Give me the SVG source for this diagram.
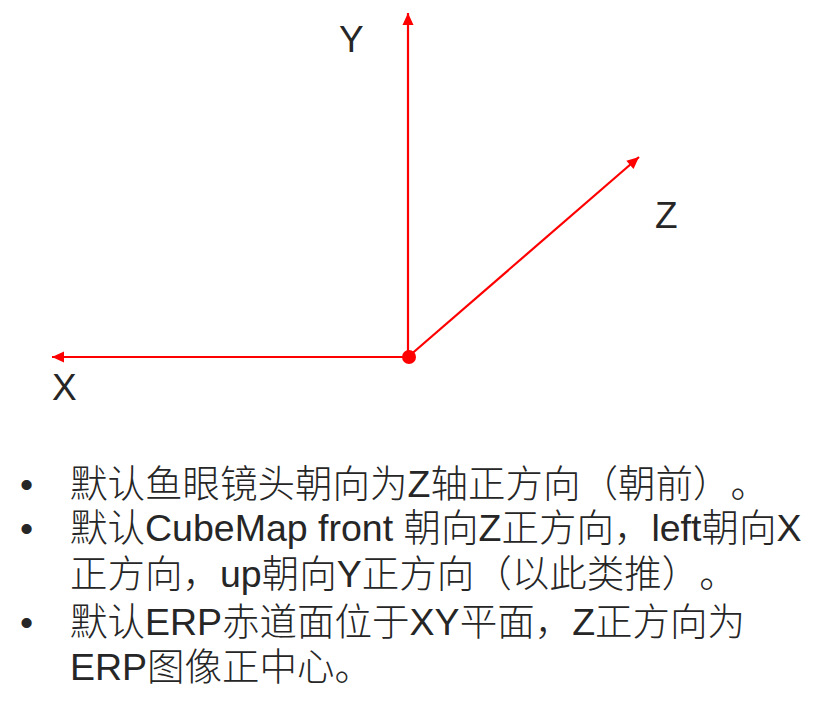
<svg xmlns="http://www.w3.org/2000/svg" width="822" height="709" viewBox="0 0 822 709">
  <style>
    .axis { stroke: #FF0000; stroke-width: 2.2; fill: none; }
    .lbl { font-family: "Liberation Sans", Arial, sans-serif; font-size: 37px; fill: #262626; }
    .txt { font-family: "Liberation Sans", "Noto Sans CJK SC", sans-serif; font-size: 37.5px; fill: #262626; font-weight: 300; text-spacing-trim: space-all; font-feature-settings: "chws" 0, "halt" 0, "palt" 0; }
  </style>
  <defs>
    <marker id="arrow" markerUnits="userSpaceOnUse" markerWidth="14" markerHeight="12" refX="13" refY="6" orient="auto">
      <path d="M1,0.5 L13,6 L1,11.5 Z" fill="#FF0000"/>
    </marker>
  </defs>
  <rect width="822" height="709" fill="#FFFFFF"/>
  <g id="connectors">
    <line id="axis-y" class="axis" x1="408" y1="357" x2="408" y2="13" marker-end="url(#arrow)"/>
    <line id="axis-x" class="axis" x1="408" y1="357" x2="52" y2="357" marker-end="url(#arrow)"/>
    <line id="axis-z" class="axis" x1="408" y1="357" x2="639" y2="157" marker-end="url(#arrow)"/>
  </g>
  <g id="origin">
    <circle cx="409" cy="357" r="7" fill="#FF0000"/>
  </g>
  <g id="label-y"><text class="lbl" x="339" y="52">Y</text></g>
  <g id="label-x"><text class="lbl" x="52" y="400">X</text></g>
  <g id="label-z"><text class="lbl" x="655" y="228">Z</text></g>
  <g id="notes">
    <text class="txt" x="20" y="497">•</text>
    <text class="txt" x="70" y="497">默认鱼眼镜头朝向为Z轴正方向（朝前）。</text>
    <text class="txt" x="20" y="541">•</text>
    <text class="txt" x="70" y="541">默认CubeMap front 朝向Z正方向，left朝向X</text>
    <text class="txt" x="70" y="587">正方向，up朝向Y正方向（以此类推）。</text>
    <text class="txt" x="20" y="635">•</text>
    <text class="txt" x="70" y="635">默认ERP赤道面位于XY平面，Z正方向为</text>
    <text class="txt" x="70" y="680">ERP图像正中心。</text>
  </g>
</svg>
